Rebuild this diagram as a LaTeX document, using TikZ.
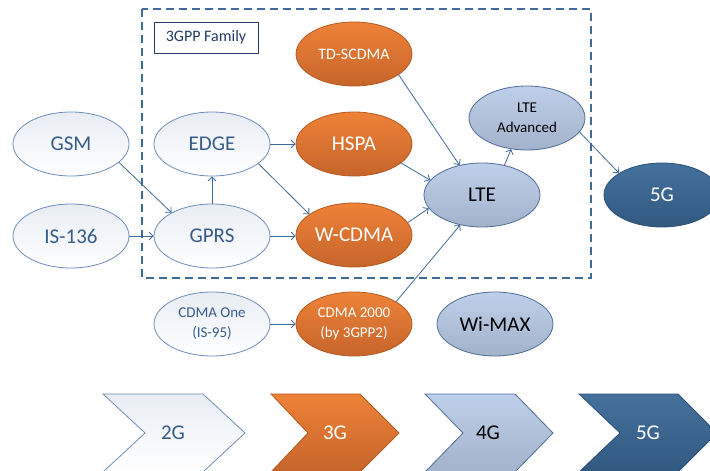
\documentclass[tikz,border=0pt]{standalone}
\usepackage{fontspec}
\setmainfont{Carlito}
\usetikzlibrary{shapes.geometric, arrows.meta, positioning}
\definecolor{linkblue}{RGB}{64,106,152}
\definecolor{textblue}{RGB}{56,92,138}
\definecolor{navy}{RGB}{36,60,100}
\definecolor{paleblue}{RGB}{232,237,244}
\definecolor{edgeblue}{RGB}{110,140,185}
\definecolor{orangetop}{RGB}{238,130,56}
\definecolor{orangebot}{RGB}{198,101,43}
\definecolor{orangeedge}{RGB}{180,90,35}
\definecolor{ltetop}{RGB}{190,208,233}
\definecolor{ltebot}{RGB}{162,178,202}
\definecolor{lteedge}{RGB}{80,108,152}
\definecolor{darktop}{RGB}{68,113,157}
\definecolor{darkbot}{RGB}{50,89,128}
\definecolor{darkedge}{RGB}{46,82,119}

\begin{document}
\begin{tikzpicture}[x=1pt, y=-1pt,
  gen/.style={ellipse, minimum width=116pt, minimum height=64pt, inner sep=0pt,
    line width=0.8pt, align=center, font=\fontsize{21}{24}\selectfont},
  twog/.style={gen, draw=edgeblue, top color=paleblue, bottom color=white, text=textblue},
  threeg/.style={gen, draw=orangeedge, top color=orangetop, bottom color=orangebot, text=white},
  fourg/.style={gen, draw=lteedge, top color=ltetop, bottom color=ltebot, text=black},
  fiveg/.style={gen, draw=darkedge, top color=darktop, bottom color=darkbot, text=white},
  link/.style={draw=linkblue, line width=0.8pt, -{Straight Barb[length=4pt, width=8pt]}},
  chev/.style={line width=0.8pt, line join=miter},
  chevtext/.style={font=\fontsize{21}{24}\selectfont}]
  \useasboundingbox (0,0) rectangle (710,471);

  % 3GPP family frame
  \draw[linkblue, line width=1.5pt, dash pattern=on 8pt off 5pt] (142,9) rectangle (591,278);
  \node[draw=navy, line width=0.8pt, minimum width=104pt, minimum height=31pt, inner sep=0pt,
    text=navy, font=\fontsize{16}{18}\selectfont] (family) at (206,37.5) {3GPP Family};

  % generations
  \node[twog] (gsm) at (71,144) {GSM};
  \node[twog] (isone) at (71,236) {IS-136};
  \node[twog] (edge) at (212,144) {EDGE};
  \node[twog] (gprs) at (212,236) {GPRS};
  \node[twog, font=\fontsize{15}{20}\selectfont] (cdmaone) at (212,324) {CDMA One\\(IS-95)};
  \node[threeg, font=\fontsize{16}{18}\selectfont] (tdscdma) at (354,54) {TD-SCDMA};
  \node[threeg] (hspa) at (354,144) {HSPA};
  \node[threeg] (wcdma) at (354,235) {W-CDMA};
  \node[threeg, font=\fontsize{15}{20}\selectfont] (cdmatwo) at (354,324) {CDMA 2000\\(by 3GPP2)};
  \node[fourg] (lte) at (482,195) {LTE};
  \node[fourg, font=\fontsize{15}{20}\selectfont] (lteadv) at (527,118) {LTE\\Advanced};
  \node[fourg] (wimax) at (495,324) {Wi-MAX};
  \node[fiveg] (five) at (662,195) {5G};

  % links
  \draw[link] (gsm.-21) -- (gprs.150);
  \draw[link] (isone.east) -- (gprs.west);
  \draw[link] (gprs.north) -- (edge.south);
  \draw[link] (edge.east) -- (hspa.west);
  \draw[link] (edge.-23) -- (wcdma.155);
  \draw[link] (gprs.east) -- (wcdma.west |- gprs.east);
  \draw[link] (cdmaone.east) -- (cdmatwo.west);
  \draw[link] (tdscdma.-25) -- (lte.127);
  \draw[link] (hspa.-22) -- (lte.164);
  \draw[link] (wcdma.13) -- (lte.-166);
  \draw[link] (cdmatwo.28) -- (lte.-126);
  \draw[link] (lte.53) -- (lteadv.-117);
  \draw[link] (lteadv.-15) -- (five.153);

  % legend
  \draw[chev, draw=edgeblue, top color=paleblue, bottom color=white]
    (103,394) -- (203,394) -- (245,433) -- (203,472) -- (103,472) -- (145,433) -- cycle;
  \draw[chev, draw=orangeedge, top color=orangetop, bottom color=orangebot]
    (271,394) -- (360,394) -- (399,433) -- (360,472) -- (271,472) -- (308,433) -- cycle;
  \draw[chev, draw=lteedge, top color=ltetop, bottom color=ltebot]
    (425,394) -- (515,394) -- (553,433) -- (515,472) -- (425,472) -- (463,433) -- cycle;
  \draw[chev, draw=darkedge, top color=darktop, bottom color=darkbot]
    (579,394) -- (678,394) -- (717,433) -- (678,472) -- (579,472) -- (620,433) -- cycle;
  \node[chevtext, text=textblue] (lbltwo) at (173,433) {2G};
  \node[chevtext, text=white] (lblthree) at (335,433) {3G};
  \node[chevtext, text=black] (lblfour) at (488,433) {4G};
  \node[chevtext, text=white] (lblfive) at (648,433) {5G};
\end{tikzpicture}
\end{document}
